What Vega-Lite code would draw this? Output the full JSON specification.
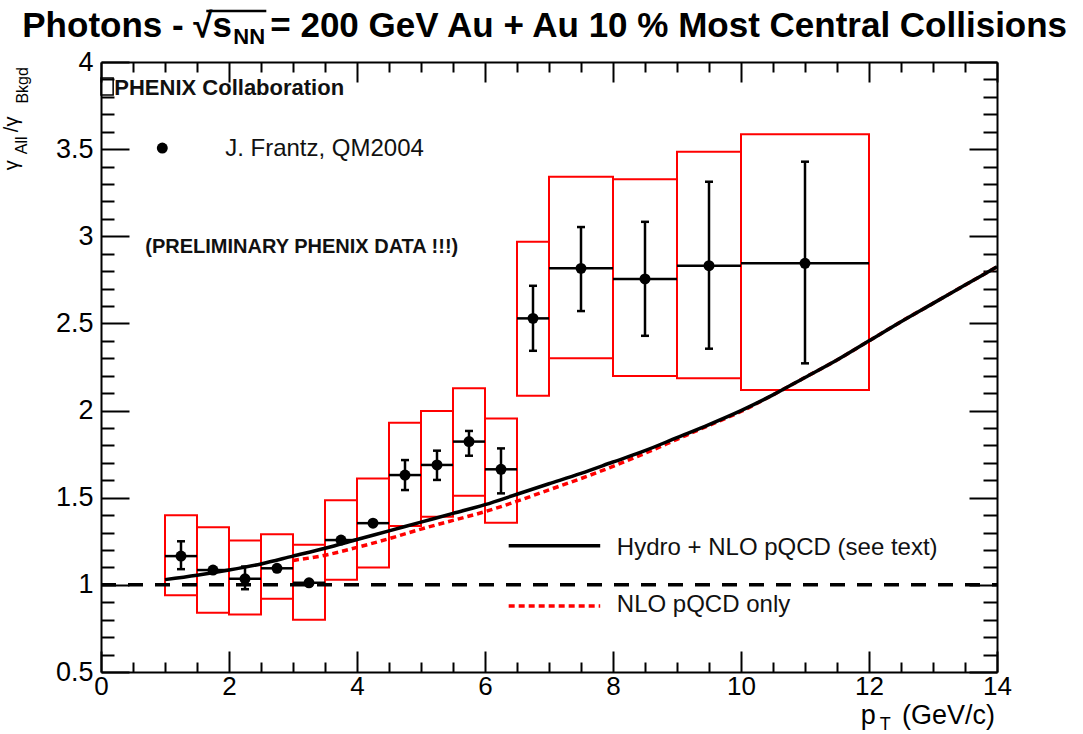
{
  "$schema": "https://vega.github.io/schema/vega-lite/v6.json",
  "width": 896,
  "height": 610,
  "autosize": {"type": "none"},
  "padding": {"left": 101, "top": 62, "right": 86, "bottom": 62},
  "background": "white",
  "config": {"view": {"stroke": null}, "font": "Liberation Sans"},
  "datasets": {
    "pts": [
      {"pt": 1.25, "lo": 1.0, "hi": 1.5, "y": 1.165, "elo": 1.09, "ehi": 1.25, "slo": 0.94, "shi": 1.40},
      {"pt": 1.75, "lo": 1.5, "hi": 2.0, "y": 1.085, "elo": 1.075, "ehi": 1.095, "slo": 0.84, "shi": 1.33},
      {"pt": 2.25, "lo": 2.0, "hi": 2.5, "y": 1.035, "elo": 0.975, "ehi": 1.105, "slo": 0.83, "shi": 1.255},
      {"pt": 2.75, "lo": 2.5, "hi": 3.0, "y": 1.095, "elo": 1.085, "ehi": 1.105, "slo": 0.92, "shi": 1.29},
      {"pt": 3.25, "lo": 3.0, "hi": 3.5, "y": 1.012, "elo": 1.002, "ehi": 1.022, "slo": 0.80, "shi": 1.23},
      {"pt": 3.75, "lo": 3.5, "hi": 4.0, "y": 1.257, "elo": 1.247, "ehi": 1.267, "slo": 1.03, "shi": 1.485},
      {"pt": 4.25, "lo": 4.0, "hi": 4.5, "y": 1.354, "elo": 1.344, "ehi": 1.364, "slo": 1.10, "shi": 1.61},
      {"pt": 4.75, "lo": 4.5, "hi": 5.0, "y": 1.63, "elo": 1.544, "ehi": 1.716, "slo": 1.338, "shi": 1.93},
      {"pt": 5.25, "lo": 5.0, "hi": 5.5, "y": 1.688, "elo": 1.602, "ehi": 1.77, "slo": 1.391, "shi": 1.997},
      {"pt": 5.75, "lo": 5.5, "hi": 6.0, "y": 1.822, "elo": 1.741, "ehi": 1.883, "slo": 1.511, "shi": 2.128},
      {"pt": 6.25, "lo": 6.0, "hi": 6.5, "y": 1.663, "elo": 1.525, "ehi": 1.783, "slo": 1.357, "shi": 1.955},
      {"pt": 6.75, "lo": 6.5, "hi": 7.0, "y": 2.529, "elo": 2.343, "ehi": 2.716, "slo": 2.085, "shi": 2.969},
      {"pt": 7.5, "lo": 7.0, "hi": 8.0, "y": 2.816, "elo": 2.571, "ehi": 3.053, "slo": 2.30, "shi": 3.342},
      {"pt": 8.5, "lo": 8.0, "hi": 9.0, "y": 2.755, "elo": 2.429, "ehi": 3.083, "slo": 2.198, "shi": 3.327},
      {"pt": 9.5, "lo": 9.0, "hi": 10.0, "y": 2.831, "elo": 2.355, "ehi": 3.313, "slo": 2.185, "shi": 3.485},
      {"pt": 11.0, "lo": 10.0, "hi": 12.0, "y": 2.845, "elo": 2.271, "ehi": 3.428, "slo": 2.118, "shi": 3.585}
    ],
    "hydro": [
      {"pt": 1.0, "y": 1.03}, {"pt": 1.5, "y": 1.055}, {"pt": 2.0, "y": 1.085}, {"pt": 2.5, "y": 1.12},
      {"pt": 3.0, "y": 1.165}, {"pt": 3.5, "y": 1.21}, {"pt": 4.0, "y": 1.26}, {"pt": 4.5, "y": 1.31},
      {"pt": 5.0, "y": 1.36}, {"pt": 5.5, "y": 1.41}, {"pt": 6.0, "y": 1.46}, {"pt": 6.5, "y": 1.52},
      {"pt": 7.0, "y": 1.58}, {"pt": 7.5, "y": 1.64}, {"pt": 8.0, "y": 1.705}, {"pt": 8.5, "y": 1.77},
      {"pt": 9.0, "y": 1.845}, {"pt": 9.5, "y": 1.92}, {"pt": 10.0, "y": 2.0}, {"pt": 10.5, "y": 2.09},
      {"pt": 11.0, "y": 2.19}, {"pt": 11.5, "y": 2.29}, {"pt": 12.0, "y": 2.40}, {"pt": 12.5, "y": 2.51},
      {"pt": 13.0, "y": 2.615}, {"pt": 13.5, "y": 2.72}, {"pt": 14.0, "y": 2.825}
    ],
    "nlo": [
      {"pt": 3.0, "y": 1.14}, {"pt": 3.5, "y": 1.17}, {"pt": 4.0, "y": 1.215}, {"pt": 4.5, "y": 1.265},
      {"pt": 5.0, "y": 1.32}, {"pt": 5.5, "y": 1.37}, {"pt": 6.0, "y": 1.42}, {"pt": 6.5, "y": 1.48},
      {"pt": 7.0, "y": 1.545}, {"pt": 7.5, "y": 1.61}, {"pt": 8.0, "y": 1.68}, {"pt": 8.5, "y": 1.755},
      {"pt": 9.0, "y": 1.835}, {"pt": 9.5, "y": 1.915}, {"pt": 10.0, "y": 1.995}, {"pt": 10.5, "y": 2.09},
      {"pt": 11.0, "y": 2.19}, {"pt": 11.5, "y": 2.29}, {"pt": 12.0, "y": 2.40}, {"pt": 12.5, "y": 2.51},
      {"pt": 13.0, "y": 2.615}, {"pt": 13.5, "y": 2.72}, {"pt": 14.0, "y": 2.825}
    ]
  },
  "layer": [
    {
      "data": {"name": "pts"},
      "mark": {"type": "rect", "filled": false, "stroke": "#ff0000", "strokeWidth": 2},
      "encoding": {
        "x": {"field": "lo", "type": "quantitative", "scale": {"domain": [0, 14], "nice": false, "zero": false},
          "axis": {"orient": "bottom", "title": null, "grid": false,
            "values": [0,0.5,1,1.5,2,2.5,3,3.5,4,4.5,5,5.5,6,6.5,7,7.5,8,8.5,9,9.5,10,10.5,11,11.5,12,12.5,13,13.5,14],
            "domainColor": "black", "domainWidth": 2, "tickColor": "black", "tickWidth": 2,
            "tickSize": {"condition": {"test": "abs(datum.value/2-round(datum.value/2))<0.001", "value": -21}, "value": -10},
            "labelExpr": "abs(datum.value/2-round(datum.value/2))<0.001 ? format(datum.value,'d') : ''",
            "labelFont": "Liberation Sans", "labelFontSize": 26, "labelColor": "black", "labelPadding": 22,
            "labelFlush": false, "labelOverlap": false, "labelBound": false}},
        "x2": {"field": "hi"},
        "y": {"field": "slo", "type": "quantitative", "scale": {"domain": [0.5, 4], "nice": false, "zero": false},
          "axis": {"orient": "left", "title": null, "grid": false,
            "values": [0.5,0.6,0.7,0.8,0.9,1.0,1.1,1.2,1.3,1.4,1.5,1.6,1.7,1.8,1.9,2.0,2.1,2.2,2.3,2.4,2.5,2.6,2.7,2.8,2.9,3.0,3.1,3.2,3.3,3.4,3.5,3.6,3.7,3.8,3.9,4.0],
            "domainColor": "black", "domainWidth": 2, "tickColor": "black", "tickWidth": 2,
            "tickSize": {"condition": {"test": "abs(datum.value*2-round(datum.value*2))<0.001", "value": -28}, "value": -13},
            "labelExpr": "abs(datum.value*2-round(datum.value*2))<0.001 ? format(datum.value,'~g') : ''",
            "labelFont": "Liberation Sans", "labelFontSize": 27, "labelColor": "black", "labelPadding": 36,
            "labelFlush": false, "labelOverlap": false, "labelBound": false}},
        "y2": {"field": "shi"}
      }
    },
    {
      "data": {"values": [{"x": 0, "x2": 14, "y": 1}]},
      "mark": {"type": "rule", "color": "black", "strokeWidth": 3.5, "strokeDash": [15, 12]},
      "encoding": {
        "x": {"field": "x", "type": "quantitative", "scale": {"domain": [0, 14], "nice": false, "zero": false},
          "axis": {"orient": "top", "title": null, "grid": false, "labels": false,
            "values": [0,0.5,1,1.5,2,2.5,3,3.5,4,4.5,5,5.5,6,6.5,7,7.5,8,8.5,9,9.5,10,10.5,11,11.5,12,12.5,13,13.5,14],
            "domainColor": "black", "domainWidth": 2, "tickColor": "black", "tickWidth": 2,
            "tickSize": {"condition": {"test": "abs(datum.value/2-round(datum.value/2))<0.001", "value": -20}, "value": -10}}},
        "x2": {"field": "x2"},
        "y": {"field": "y", "type": "quantitative", "scale": {"domain": [0.5, 4], "nice": false, "zero": false},
          "axis": {"orient": "right", "title": null, "grid": false, "labels": false,
            "values": [0.5,0.6,0.7,0.8,0.9,1.0,1.1,1.2,1.3,1.4,1.5,1.6,1.7,1.8,1.9,2.0,2.1,2.2,2.3,2.4,2.5,2.6,2.7,2.8,2.9,3.0,3.1,3.2,3.3,3.4,3.5,3.6,3.7,3.8,3.9,4.0],
            "domainColor": "black", "domainWidth": 2, "tickColor": "black", "tickWidth": 2,
            "tickSize": {"condition": {"test": "abs(datum.value*2-round(datum.value*2))<0.001", "value": -28}, "value": -14}}}
      }
    },
    {
      "data": {"name": "nlo"},
      "mark": {"type": "line", "color": "#ff0000", "strokeWidth": 3.5, "strokeDash": [6, 4], "interpolate": "monotone"},
      "encoding": {
        "x": {"field": "pt", "type": "quantitative", "scale": {"domain": [0, 14], "nice": false, "zero": false}, "axis": null},
        "y": {"field": "y", "type": "quantitative", "scale": {"domain": [0.5, 4], "nice": false, "zero": false}, "axis": null}
      }
    },
    {
      "data": {"name": "hydro"},
      "mark": {"type": "line", "color": "black", "strokeWidth": 3.5, "interpolate": "monotone"},
      "encoding": {
        "x": {"field": "pt", "type": "quantitative", "axis": null},
        "y": {"field": "y", "type": "quantitative", "axis": null}
      }
    },
    {
      "data": {"name": "pts"},
      "mark": {"type": "rule", "color": "black", "strokeWidth": 2.5},
      "encoding": {
        "x": {"field": "lo", "type": "quantitative", "axis": null},
        "x2": {"field": "hi"},
        "y": {"field": "y", "type": "quantitative", "axis": null}
      }
    },
    {
      "data": {"name": "pts"},
      "mark": {"type": "rule", "color": "black", "strokeWidth": 2.5},
      "encoding": {
        "x": {"field": "pt", "type": "quantitative", "axis": null},
        "y": {"field": "elo", "type": "quantitative", "axis": null},
        "y2": {"field": "ehi"}
      }
    },
    {
      "data": {"name": "pts"},
      "mark": {"type": "tick", "orient": "horizontal", "color": "black", "size": 8, "thickness": 2.5, "opacity": 1},
      "encoding": {
        "x": {"field": "pt", "type": "quantitative", "axis": null},
        "y": {"field": "elo", "type": "quantitative", "axis": null}
      }
    },
    {
      "data": {"name": "pts"},
      "mark": {"type": "tick", "orient": "horizontal", "color": "black", "size": 8, "thickness": 2.5, "opacity": 1},
      "encoding": {
        "x": {"field": "pt", "type": "quantitative", "axis": null},
        "y": {"field": "ehi", "type": "quantitative", "axis": null}
      }
    },
    {
      "data": {"name": "pts"},
      "mark": {"type": "circle", "color": "black", "size": 120, "opacity": 1},
      "encoding": {
        "x": {"field": "pt", "type": "quantitative", "axis": null},
        "y": {"field": "y", "type": "quantitative", "axis": null}
      }
    },
    {
      "data": {"values": [{"x": 6.37, "x2": 7.8, "y": 1.225}]},
      "mark": {"type": "rule", "color": "black", "strokeWidth": 3.5},
      "encoding": {
        "x": {"field": "x", "type": "quantitative", "axis": null},
        "x2": {"field": "x2"},
        "y": {"field": "y", "type": "quantitative", "axis": null}
      }
    },
    {
      "data": {"values": [{"x": 6.37, "x2": 7.8, "y": 0.879}]},
      "mark": {"type": "rule", "color": "#ff0000", "strokeWidth": 3.5, "strokeDash": [6, 4]},
      "encoding": {
        "x": {"field": "x", "type": "quantitative", "axis": null},
        "x2": {"field": "x2"},
        "y": {"field": "y", "type": "quantitative", "axis": null}
      }
    },
    {
      "data": {"values": [{"x": 1.645, "x2": 2.583, "y": 4.293}]},
      "mark": {"type": "rule", "color": "black", "strokeWidth": 2.5, "clip": false},
      "encoding": {
        "x": {"field": "x", "type": "quantitative", "axis": null},
        "x2": {"field": "x2"},
        "y": {"field": "y", "type": "quantitative", "axis": null}
      }
    },
    {
      "data": {"values": [{"x": 0.958, "y": 3.506}]},
      "mark": {"type": "circle", "color": "black", "size": 120, "opacity": 1},
      "encoding": {
        "x": {"field": "x", "type": "quantitative", "axis": null},
        "y": {"field": "y", "type": "quantitative", "axis": null}
      }
    },
    {
      "data": {"values": [{"x": 0.0, "x2": 0.19, "y": 3.81, "y2": 3.908}]},
      "mark": {"type": "rect", "filled": false, "stroke": "black", "strokeWidth": 1.5},
      "encoding": {
        "x": {"field": "x", "type": "quantitative", "axis": null},
        "x2": {"field": "x2"},
        "y": {"field": "y", "type": "quantitative", "axis": null},
        "y2": {"field": "y2"}
      }
    },
    {
      "data": {"values": [
        {"x": 1.94, "y": 3.503, "t": "J. Frantz, QM2004"},
        {"x": 8.06, "y": 1.21, "t": "Hydro + NLO pQCD (see text)"},
        {"x": 8.06, "y": 0.885, "t": "NLO pQCD only"}
      ]},
      "mark": {"type": "text", "font": "Liberation Sans", "fontSize": 24, "align": "left", "baseline": "middle", "color": "#111"},
      "encoding": {
        "x": {"field": "x", "type": "quantitative", "axis": null},
        "y": {"field": "y", "type": "quantitative", "axis": null},
        "text": {"field": "t"}
      }
    },
    {
      "data": {"values": [{"x": 0.208, "y": 3.849, "t": "PHENIX Collaboration"}]},
      "mark": {"type": "text", "font": "Liberation Sans", "fontSize": 22, "fontWeight": "bold", "align": "left", "baseline": "middle", "color": "#111"},
      "encoding": {
        "x": {"field": "x", "type": "quantitative", "axis": null},
        "y": {"field": "y", "type": "quantitative", "axis": null},
        "text": {"field": "t"}
      }
    },
    {
      "data": {"values": [{"x": 0.692, "y": 2.937, "t": "(PRELIMINARY PHENIX DATA !!!)"}]},
      "mark": {"type": "text", "font": "Liberation Sans", "fontSize": 20, "fontWeight": "bold", "align": "left", "baseline": "middle", "color": "#111"},
      "encoding": {
        "x": {"field": "x", "type": "quantitative", "axis": null},
        "y": {"field": "y", "type": "quantitative", "axis": null},
        "text": {"field": "t"}
      }
    },
    {
      "data": {"values": [
        {"x": -1.23, "y": 4.1416, "t": "Photons - √s"},
        {"x": 2.645, "y": 4.1416, "t": "= 200 GeV Au + Au 10 % Most Central Collisions"}
      ]},
      "mark": {"type": "text", "font": "Liberation Sans", "fontSize": 35, "fontWeight": "bold", "align": "left", "baseline": "alphabetic", "color": "black"},
      "encoding": {
        "x": {"field": "x", "type": "quantitative", "axis": null},
        "y": {"field": "y", "type": "quantitative", "axis": null},
        "text": {"field": "t"}
      }
    },
    {
      "data": {"values": [{"x": 2.067, "y": 4.1015, "t": "NN"}]},
      "mark": {"type": "text", "font": "Liberation Sans", "fontSize": 22, "fontWeight": "bold", "align": "left", "baseline": "alphabetic", "color": "black"},
      "encoding": {
        "x": {"field": "x", "type": "quantitative", "axis": null},
        "y": {"field": "y", "type": "quantitative", "axis": null},
        "text": {"field": "t"}
      }
    },
    {
      "data": {"values": [
        {"x": 11.99, "y": 0.1999, "t": "p"},
        {"x": 13.97, "y": 0.1999, "t": "(GeV/c)"}
      ]},
      "mark": {"type": "text", "font": "Liberation Sans", "fontSize": 27, "align": {"expr": "datum.t == 'p' ? 'center' : 'right'"}, "baseline": "alphabetic", "color": "black"},
      "encoding": {
        "x": {"field": "x", "type": "quantitative", "axis": null},
        "y": {"field": "y", "type": "quantitative", "axis": null},
        "text": {"field": "t"}
      }
    },
    {
      "data": {"values": [{"x": 12.255, "y": 0.1655, "t": "T"}]},
      "mark": {"type": "text", "font": "Liberation Sans", "fontSize": 18, "align": "center", "baseline": "alphabetic", "color": "black"},
      "encoding": {
        "x": {"field": "x", "type": "quantitative", "axis": null},
        "y": {"field": "y", "type": "quantitative", "axis": null},
        "text": {"field": "t"}
      }
    },
    {
      "data": {"values": [
        {"x": -1.386, "y": 3.407, "t": "γ"},
        {"x": -1.386, "y": 3.642, "t": "/γ"}
      ]},
      "mark": {"type": "text", "font": "Liberation Sans", "fontSize": 20, "angle": 270, "align": "center", "baseline": "middle", "color": "black"},
      "encoding": {
        "x": {"field": "x", "type": "quantitative", "axis": null},
        "y": {"field": "y", "type": "quantitative", "axis": null},
        "text": {"field": "t"}
      }
    },
    {
      "data": {"values": [
        {"x": -1.23, "y": 3.522, "t": "All"},
        {"x": -1.22, "y": 3.866, "t": "Bkgd"}
      ]},
      "mark": {"type": "text", "font": "Liberation Sans", "fontSize": 16, "angle": 270, "align": "center", "baseline": "middle", "color": "black"},
      "encoding": {
        "x": {"field": "x", "type": "quantitative", "axis": null},
        "y": {"field": "y", "type": "quantitative", "axis": null},
        "text": {"field": "t"}
      }
    }
  ]
}
